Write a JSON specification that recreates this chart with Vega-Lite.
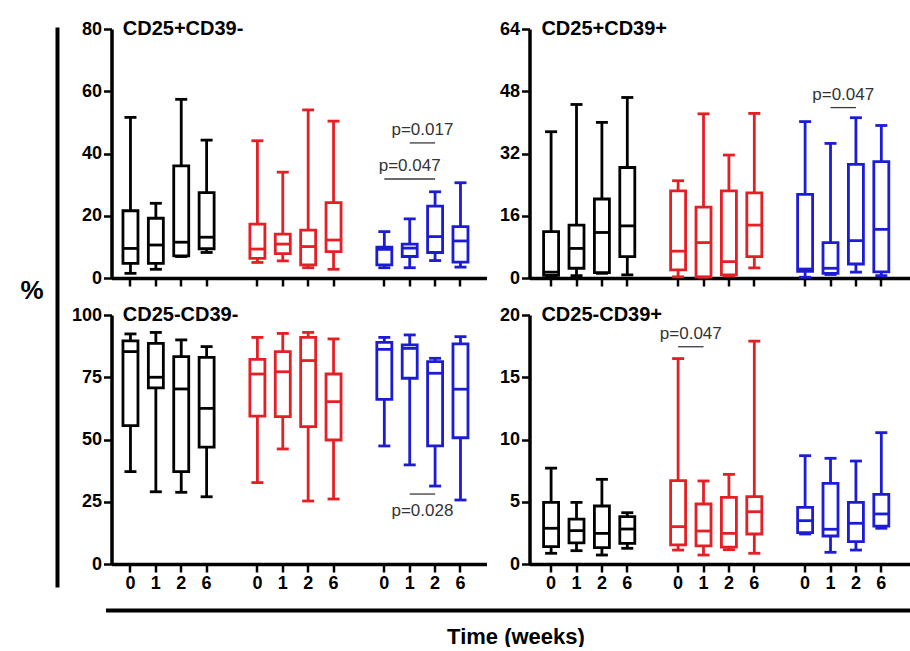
{
  "$schema": "https://vega.github.io/schema/vega-lite/v6.json",
  "background": "white",
  "padding": {"left": 19, "top": 19, "right": 0, "bottom": 0},
  "datasets": {
    "boxes": [
      {"panel": "CD25+CD39-", "box": "A0", "group": "A", "min": 1.5, "q1": 4.7, "median": 9.5, "q3": 21.6, "max": 51.6},
      {"panel": "CD25+CD39-", "box": "A1", "group": "A", "min": 2.8, "q1": 4.7, "median": 10.6, "q3": 19.2, "max": 24.0},
      {"panel": "CD25+CD39-", "box": "A2", "group": "A", "min": 6.9, "q1": 7.1, "median": 11.5, "q3": 36.0, "max": 57.4},
      {"panel": "CD25+CD39-", "box": "A6", "group": "A", "min": 8.2, "q1": 9.4, "median": 13.1, "q3": 27.4, "max": 44.3},
      {"panel": "CD25+CD39-", "box": "B0", "group": "B", "min": 5.0, "q1": 6.3, "median": 9.3, "q3": 17.3, "max": 44.1},
      {"panel": "CD25+CD39-", "box": "B1", "group": "B", "min": 5.5, "q1": 7.8, "median": 10.9, "q3": 14.1, "max": 34.0},
      {"panel": "CD25+CD39-", "box": "B2", "group": "B", "min": 3.3, "q1": 4.2, "median": 10.1, "q3": 15.4, "max": 54.0},
      {"panel": "CD25+CD39-", "box": "B6", "group": "B", "min": 2.8, "q1": 8.5, "median": 12.2, "q3": 24.2, "max": 50.4},
      {"panel": "CD25+CD39-", "box": "C0", "group": "C", "min": 3.3, "q1": 4.2, "median": 9.2, "q3": 9.9, "max": 14.9},
      {"panel": "CD25+CD39-", "box": "C1", "group": "C", "min": 3.3, "q1": 6.9, "median": 9.6, "q3": 10.9, "max": 19.0},
      {"panel": "CD25+CD39-", "box": "C2", "group": "C", "min": 5.6, "q1": 8.2, "median": 13.3, "q3": 23.1, "max": 27.7},
      {"panel": "CD25+CD39-", "box": "C6", "group": "C", "min": 3.5, "q1": 5.1, "median": 11.9, "q3": 16.5, "max": 30.6},

      {"panel": "CD25+CD39+", "box": "A0", "group": "A", "min": 0.5, "q1": 0.7, "median": 1.5, "q3": 11.9, "max": 37.6},
      {"panel": "CD25+CD39+", "box": "A1", "group": "A", "min": 0.6, "q1": 2.5, "median": 7.6, "q3": 13.6, "max": 44.6},
      {"panel": "CD25+CD39+", "box": "A2", "group": "A", "min": 1.2, "q1": 1.4, "median": 11.7, "q3": 20.3, "max": 40.0},
      {"panel": "CD25+CD39+", "box": "A6", "group": "A", "min": 0.8, "q1": 5.5, "median": 13.4, "q3": 28.4, "max": 46.4},
      {"panel": "CD25+CD39+", "box": "B0", "group": "B", "min": 0.3, "q1": 2.1, "median": 6.9, "q3": 22.4, "max": 25.0},
      {"panel": "CD25+CD39+", "box": "B1", "group": "B", "min": 0.2, "q1": 0.3, "median": 9.1, "q3": 18.2, "max": 42.2},
      {"panel": "CD25+CD39+", "box": "B2", "group": "B", "min": 0.5, "q1": 0.8, "median": 4.2, "q3": 22.4, "max": 31.6},
      {"panel": "CD25+CD39+", "box": "B6", "group": "B", "min": 2.6, "q1": 5.5, "median": 13.6, "q3": 21.9, "max": 42.3},
      {"panel": "CD25+CD39+", "box": "C0", "group": "C", "min": 0.2, "q1": 1.7, "median": 2.3, "q3": 21.5, "max": 40.2},
      {"panel": "CD25+CD39+", "box": "C1", "group": "C", "min": 0.9, "q1": 1.2, "median": 2.5, "q3": 9.1, "max": 34.6},
      {"panel": "CD25+CD39+", "box": "C2", "group": "C", "min": 1.5, "q1": 3.6, "median": 9.6, "q3": 29.2, "max": 41.2},
      {"panel": "CD25+CD39+", "box": "C6", "group": "C", "min": 0.6, "q1": 1.6, "median": 12.5, "q3": 29.9, "max": 39.2},

      {"panel": "CD25-CD39-", "box": "A0", "group": "A", "min": 37.1, "q1": 55.6, "median": 85.3, "q3": 89.6, "max": 92.4},
      {"panel": "CD25-CD39-", "box": "A1", "group": "A", "min": 29.0, "q1": 70.7, "median": 75.0, "q3": 88.6, "max": 93.0},
      {"panel": "CD25-CD39-", "box": "A2", "group": "A", "min": 28.8, "q1": 37.1, "median": 70.3, "q3": 83.3, "max": 90.0},
      {"panel": "CD25-CD39-", "box": "A6", "group": "A", "min": 27.0, "q1": 46.9, "median": 62.5, "q3": 83.0, "max": 87.3},
      {"panel": "CD25-CD39-", "box": "B0", "group": "B", "min": 32.7, "q1": 59.4, "median": 76.3, "q3": 82.2, "max": 91.0},
      {"panel": "CD25-CD39-", "box": "B1", "group": "B", "min": 46.2, "q1": 59.2, "median": 77.2, "q3": 85.3, "max": 92.6},
      {"panel": "CD25-CD39-", "box": "B2", "group": "B", "min": 25.3, "q1": 55.2, "median": 81.7, "q3": 91.0, "max": 93.0},
      {"panel": "CD25-CD39-", "box": "B6", "group": "B", "min": 26.1, "q1": 49.8, "median": 65.2, "q3": 76.3, "max": 90.4},
      {"panel": "CD25-CD39-", "box": "C0", "group": "C", "min": 47.4, "q1": 66.1, "median": 86.2, "q3": 89.0, "max": 91.0},
      {"panel": "CD25-CD39-", "box": "C1", "group": "C", "min": 39.8, "q1": 74.6, "median": 86.6, "q3": 88.0, "max": 92.0},
      {"panel": "CD25-CD39-", "box": "C2", "group": "C", "min": 31.3, "q1": 47.4, "median": 76.6, "q3": 81.3, "max": 82.6},
      {"panel": "CD25-CD39-", "box": "C6", "group": "C", "min": 25.7, "q1": 50.7, "median": 70.2, "q3": 88.4, "max": 91.3},

      {"panel": "CD25-CD39+", "box": "A0", "group": "A", "min": 0.86, "q1": 1.4, "median": 2.87, "q3": 4.95, "max": 7.7},
      {"panel": "CD25-CD39+", "box": "A1", "group": "A", "min": 1.07, "q1": 1.7, "median": 2.68, "q3": 3.6, "max": 4.95},
      {"panel": "CD25-CD39+", "box": "A2", "group": "A", "min": 0.72, "q1": 1.31, "median": 2.46, "q3": 4.66, "max": 6.8},
      {"panel": "CD25-CD39+", "box": "A6", "group": "A", "min": 1.26, "q1": 1.66, "median": 2.81, "q3": 3.8, "max": 4.12},
      {"panel": "CD25-CD39+", "box": "B0", "group": "B", "min": 1.12, "q1": 1.53, "median": 3.0, "q3": 6.69, "max": 16.5},
      {"panel": "CD25-CD39+", "box": "B1", "group": "B", "min": 0.72, "q1": 1.45, "median": 2.65, "q3": 4.82, "max": 6.67},
      {"panel": "CD25-CD39+", "box": "B2", "group": "B", "min": 1.15, "q1": 1.35, "median": 2.46, "q3": 5.35, "max": 7.2},
      {"panel": "CD25-CD39+", "box": "B6", "group": "B", "min": 0.86, "q1": 2.41, "median": 4.2, "q3": 5.41, "max": 17.9},
      {"panel": "CD25-CD39+", "box": "C0", "group": "C", "min": 2.41, "q1": 2.52, "median": 3.48, "q3": 4.55, "max": 8.7},
      {"panel": "CD25-CD39+", "box": "C1", "group": "C", "min": 0.94, "q1": 2.25, "median": 2.79, "q3": 6.48, "max": 8.49},
      {"panel": "CD25-CD39+", "box": "C2", "group": "C", "min": 1.12, "q1": 1.79, "median": 3.27, "q3": 4.95, "max": 8.27},
      {"panel": "CD25-CD39+", "box": "C6", "group": "C", "min": 2.87, "q1": 3.05, "median": 4.02, "q3": 5.6, "max": 10.55}
    ],
    "notes": [
      {"panel": "CD25+CD39-", "from": "C1", "to": "C2", "mid": "C1", "level": 43.4, "label": "p=0.017", "place": "above", "span": 1},
      {"panel": "CD25+CD39-", "from": "C0", "to": "C2", "mid": "C1", "level": 31.8, "label": "p=0.047", "place": "above", "span": 2},
      {"panel": "CD25+CD39+", "from": "C1", "to": "C2", "mid": "C1", "level": 43.8, "label": "p=0.047", "place": "above", "span": 1},
      {"panel": "CD25-CD39-", "from": "C1", "to": "C2", "mid": "C1", "level": 28.1, "label": "p=0.028", "place": "below", "span": 1},
      {"panel": "CD25-CD39+", "from": "B0", "to": "B1", "mid": "B0", "level": 17.45, "label": "p=0.047", "place": "above", "span": 1}
    ]
  },
  "spacing": 12.5,
  "hconcat": [
    {
      "width": 1,
      "height": 568,
      "data": {"values": [{}]},
      "mark": {"type": "rule", "opacity": 0},
      "encoding": {
        "y": {
          "datum": 0, "type": "quantitative",
          "scale": {"domain": [0, 1], "range": [558, -2]},
          "axis": {"domain": true, "domainWidth": 4, "ticks": false, "labels": false, "grid": false, "minExtent": 0,
                   "title": "%", "titleAngle": 0, "titleAlign": "right", "titleBaseline": "middle",
                   "titleFontSize": 26, "titleFontWeight": "bold", "titlePadding": 14, "titleY": 261}
        }
      }
    },
    {
      "spacing": 17,
      "vconcat": [
        {
          "columns": 2,
          "spacing": {"row": 17, "column": 12},
          "concat": [
            {
              "width": 375, "height": 249,
              "layer": [
                {
                  "data": {"name": "boxes"},
                  "transform": [{"filter": "datum.panel === 'CD25+CD39-'"}],
                  "encoding": {
                    "x": {"field": "box", "type": "nominal", "title": null,
                          "scale": {"domain": ["A0","A1","A2","A6","g1","B0","B1","B2","B6","g2","C0","C1","C2","C6"], "paddingInner": 0, "paddingOuter": 0.386, "align": 0.32},
                          "axis": {"values": ["A0","A1","A2","A6","B0","B1","B2","B6","C0","C1","C2","C6"], "labels": false, "title": null}},
                    "color": {"field": "group", "type": "nominal"}
                  },
                  "layer": [
                    {"mark": {"type": "rule", "strokeWidth": 2.8},
                     "encoding": {"y": {"field": "min", "type": "quantitative", "title": null, "scale": {"domain": [0, 80], "nice": false}, "axis": {"values": [0, 20, 40, 60, 80], "title": null}}, "y2": {"field": "max"}}},
                    {"mark": {"type": "bar", "size": 15, "strokeWidth": 2.8},
                     "encoding": {"y": {"field": "q3", "type": "quantitative", "title": null}, "y2": {"field": "q1"}, "color": {"value": "white"}, "stroke": {"field": "group", "type": "nominal"}}},
                    {"mark": {"type": "tick", "size": 15, "thickness": 2.8, "opacity": 1},
                     "encoding": {"y": {"field": "median", "type": "quantitative", "title": null}}},
                    {"mark": {"type": "tick", "size": 12, "thickness": 2.8, "opacity": 1},
                     "encoding": {"y": {"field": "min", "type": "quantitative", "title": null}}},
                    {"mark": {"type": "tick", "size": 12, "thickness": 2.8, "opacity": 1},
                     "encoding": {"y": {"field": "max", "type": "quantitative", "title": null}}}
                  ]
                },
                {
                  "data": {"values": [{"name": "CD25+CD39-"}]},
                  "mark": {"type": "text", "align": "left", "baseline": "middle", "dx": 5, "fontSize": 20, "fontWeight": "bold", "color": "#000000"},
                  "encoding": {"x": {"datum": "A0", "type": "nominal", "bandPosition": 0}, "y": {"datum": 80, "type": "quantitative"}, "text": {"field": "name"}}
                },
                {
                  "data": {"name": "notes"},
                  "transform": [{"filter": "datum.panel === 'CD25+CD39-'"}],
                  "mark": {"type": "rule", "strokeWidth": 1.3, "color": "#3a3a3a"},
                  "encoding": {"x": {"field": "from", "type": "nominal", "title": null}, "x2": {"field": "to"}, "y": {"field": "level", "type": "quantitative", "title": null}}
                },
                {
                  "data": {"name": "notes"},
                  "transform": [{"filter": "datum.panel === 'CD25+CD39-' && datum.span === 1"}],
                  "mark": {"type": "text", "baseline": "alphabetic", "dy": -8, "fontSize": 17, "color": "#333333"},
                  "encoding": {"x": {"field": "from", "type": "nominal", "bandPosition": 1, "title": null}, "y": {"field": "level", "type": "quantitative", "title": null}, "text": {"field": "label"}}
                },
                {
                  "data": {"name": "notes"},
                  "transform": [{"filter": "datum.panel === 'CD25+CD39-' && datum.span === 2"}],
                  "mark": {"type": "text", "baseline": "alphabetic", "dy": -8, "fontSize": 17, "color": "#333333"},
                  "encoding": {"x": {"field": "mid", "type": "nominal", "bandPosition": 0.5, "title": null}, "y": {"field": "level", "type": "quantitative", "title": null}, "text": {"field": "label"}}
                }
              ]
            },
            {
              "width": 380, "height": 249,
              "layer": [
                {
                  "data": {"name": "boxes"},
                  "transform": [{"filter": "datum.panel === 'CD25+CD39+'"}],
                  "encoding": {
                    "x": {"field": "box", "type": "nominal", "title": null,
                          "scale": {"domain": ["A0","A1","A2","A6","g1","B0","B1","B2","B6","g2","C0","C1","C2","C6"], "paddingInner": 0, "paddingOuter": 0.48, "align": 0.365},
                          "axis": {"values": ["A0","A1","A2","A6","B0","B1","B2","B6","C0","C1","C2","C6"], "labels": false, "title": null}},
                    "color": {"field": "group", "type": "nominal"}
                  },
                  "layer": [
                    {"mark": {"type": "rule", "strokeWidth": 2.8},
                     "encoding": {"y": {"field": "min", "type": "quantitative", "title": null, "scale": {"domain": [0, 64], "nice": false}, "axis": {"values": [0, 16, 32, 48, 64], "title": null}}, "y2": {"field": "max"}}},
                    {"mark": {"type": "bar", "size": 15, "strokeWidth": 2.8},
                     "encoding": {"y": {"field": "q3", "type": "quantitative", "title": null}, "y2": {"field": "q1"}, "color": {"value": "white"}, "stroke": {"field": "group", "type": "nominal"}}},
                    {"mark": {"type": "tick", "size": 15, "thickness": 2.8, "opacity": 1},
                     "encoding": {"y": {"field": "median", "type": "quantitative", "title": null}}},
                    {"mark": {"type": "tick", "size": 12, "thickness": 2.8, "opacity": 1},
                     "encoding": {"y": {"field": "min", "type": "quantitative", "title": null}}},
                    {"mark": {"type": "tick", "size": 12, "thickness": 2.8, "opacity": 1},
                     "encoding": {"y": {"field": "max", "type": "quantitative", "title": null}}}
                  ]
                },
                {
                  "data": {"values": [{"name": "CD25+CD39+"}]},
                  "mark": {"type": "text", "align": "left", "baseline": "middle", "dx": 3, "fontSize": 20, "fontWeight": "bold", "color": "#000000"},
                  "encoding": {"x": {"datum": "A0", "type": "nominal", "bandPosition": 0}, "y": {"datum": 64, "type": "quantitative"}, "text": {"field": "name"}}
                },
                {
                  "data": {"name": "notes"},
                  "transform": [{"filter": "datum.panel === 'CD25+CD39+'"}],
                  "mark": {"type": "rule", "strokeWidth": 1.3, "color": "#3a3a3a"},
                  "encoding": {"x": {"field": "from", "type": "nominal", "title": null}, "x2": {"field": "to"}, "y": {"field": "level", "type": "quantitative", "title": null}}
                },
                {
                  "data": {"name": "notes"},
                  "transform": [{"filter": "datum.panel === 'CD25+CD39+'"}],
                  "mark": {"type": "text", "baseline": "alphabetic", "dy": -8, "fontSize": 17, "color": "#333333"},
                  "encoding": {"x": {"field": "from", "type": "nominal", "bandPosition": 1, "title": null}, "y": {"field": "level", "type": "quantitative", "title": null}, "text": {"field": "label"}}
                }
              ]
            },
            {
              "width": 375, "height": 249,
              "layer": [
                {
                  "data": {"name": "boxes"},
                  "transform": [{"filter": "datum.panel === 'CD25-CD39-'"}],
                  "encoding": {
                    "x": {"field": "box", "type": "nominal", "title": null,
                          "scale": {"domain": ["A0","A1","A2","A6","g1","B0","B1","B2","B6","g2","C0","C1","C2","C6"], "paddingInner": 0, "paddingOuter": 0.386, "align": 0.32},
                          "axis": {"values": ["A0","A1","A2","A6","B0","B1","B2","B6","C0","C1","C2","C6"], "labelExpr": "substring(datum.value, 1)", "labelFontSize": 18, "labelAngle": 0, "title": null}},
                    "color": {"field": "group", "type": "nominal"}
                  },
                  "layer": [
                    {"mark": {"type": "rule", "strokeWidth": 2.8},
                     "encoding": {"y": {"field": "min", "type": "quantitative", "title": null, "scale": {"domain": [0, 100], "nice": false}, "axis": {"values": [0, 25, 50, 75, 100], "title": null}}, "y2": {"field": "max"}}},
                    {"mark": {"type": "bar", "size": 15, "strokeWidth": 2.8},
                     "encoding": {"y": {"field": "q3", "type": "quantitative", "title": null}, "y2": {"field": "q1"}, "color": {"value": "white"}, "stroke": {"field": "group", "type": "nominal"}}},
                    {"mark": {"type": "tick", "size": 15, "thickness": 2.8, "opacity": 1},
                     "encoding": {"y": {"field": "median", "type": "quantitative", "title": null}}},
                    {"mark": {"type": "tick", "size": 12, "thickness": 2.8, "opacity": 1},
                     "encoding": {"y": {"field": "min", "type": "quantitative", "title": null}}},
                    {"mark": {"type": "tick", "size": 12, "thickness": 2.8, "opacity": 1},
                     "encoding": {"y": {"field": "max", "type": "quantitative", "title": null}}}
                  ]
                },
                {
                  "data": {"values": [{"name": "CD25-CD39-"}]},
                  "mark": {"type": "text", "align": "left", "baseline": "middle", "dx": 5, "fontSize": 20, "fontWeight": "bold", "color": "#000000"},
                  "encoding": {"x": {"datum": "A0", "type": "nominal", "bandPosition": 0}, "y": {"datum": 100, "type": "quantitative"}, "text": {"field": "name"}}
                },
                {
                  "data": {"name": "notes"},
                  "transform": [{"filter": "datum.panel === 'CD25-CD39-'"}],
                  "mark": {"type": "rule", "strokeWidth": 1.3, "color": "#3a3a3a"},
                  "encoding": {"x": {"field": "from", "type": "nominal", "title": null}, "x2": {"field": "to"}, "y": {"field": "level", "type": "quantitative", "title": null}}
                },
                {
                  "data": {"name": "notes"},
                  "transform": [{"filter": "datum.panel === 'CD25-CD39-'"}],
                  "mark": {"type": "text", "baseline": "alphabetic", "dy": 22, "fontSize": 17, "color": "#333333"},
                  "encoding": {"x": {"field": "from", "type": "nominal", "bandPosition": 1, "title": null}, "y": {"field": "level", "type": "quantitative", "title": null}, "text": {"field": "label"}}
                }
              ]
            },
            {
              "width": 380, "height": 249,
              "layer": [
                {
                  "data": {"name": "boxes"},
                  "transform": [{"filter": "datum.panel === 'CD25-CD39+'"}],
                  "encoding": {
                    "x": {"field": "box", "type": "nominal", "title": null,
                          "scale": {"domain": ["A0","A1","A2","A6","g1","B0","B1","B2","B6","g2","C0","C1","C2","C6"], "paddingInner": 0, "paddingOuter": 0.48, "align": 0.365},
                          "axis": {"values": ["A0","A1","A2","A6","B0","B1","B2","B6","C0","C1","C2","C6"], "labelExpr": "substring(datum.value, 1)", "labelFontSize": 18, "labelAngle": 0, "title": null}},
                    "color": {"field": "group", "type": "nominal"}
                  },
                  "layer": [
                    {"mark": {"type": "rule", "strokeWidth": 2.8},
                     "encoding": {"y": {"field": "min", "type": "quantitative", "title": null, "scale": {"domain": [0, 20], "nice": false}, "axis": {"values": [0, 5, 10, 15, 20], "title": null}}, "y2": {"field": "max"}}},
                    {"mark": {"type": "bar", "size": 15, "strokeWidth": 2.8},
                     "encoding": {"y": {"field": "q3", "type": "quantitative", "title": null}, "y2": {"field": "q1"}, "color": {"value": "white"}, "stroke": {"field": "group", "type": "nominal"}}},
                    {"mark": {"type": "tick", "size": 15, "thickness": 2.8, "opacity": 1},
                     "encoding": {"y": {"field": "median", "type": "quantitative", "title": null}}},
                    {"mark": {"type": "tick", "size": 12, "thickness": 2.8, "opacity": 1},
                     "encoding": {"y": {"field": "min", "type": "quantitative", "title": null}}},
                    {"mark": {"type": "tick", "size": 12, "thickness": 2.8, "opacity": 1},
                     "encoding": {"y": {"field": "max", "type": "quantitative", "title": null}}}
                  ]
                },
                {
                  "data": {"values": [{"name": "CD25-CD39+"}]},
                  "mark": {"type": "text", "align": "left", "baseline": "middle", "dx": 3, "fontSize": 20, "fontWeight": "bold", "color": "#000000"},
                  "encoding": {"x": {"datum": "A0", "type": "nominal", "bandPosition": 0}, "y": {"datum": 20, "type": "quantitative"}, "text": {"field": "name"}}
                },
                {
                  "data": {"name": "notes"},
                  "transform": [{"filter": "datum.panel === 'CD25-CD39+'"}],
                  "mark": {"type": "rule", "strokeWidth": 1.3, "color": "#3a3a3a"},
                  "encoding": {"x": {"field": "from", "type": "nominal", "title": null}, "x2": {"field": "to"}, "y": {"field": "level", "type": "quantitative", "title": null}}
                },
                {
                  "data": {"name": "notes"},
                  "transform": [{"filter": "datum.panel === 'CD25-CD39+'"}],
                  "mark": {"type": "text", "baseline": "alphabetic", "dy": -8, "fontSize": 17, "color": "#333333"},
                  "encoding": {"x": {"field": "from", "type": "nominal", "bandPosition": 1, "title": null}, "y": {"field": "level", "type": "quantitative", "title": null}, "text": {"field": "label"}}
                }
              ]
            }
          ]
        },
        {
          "width": 799,
          "height": 1,
          "data": {"values": [{}]},
          "mark": {"type": "rule", "opacity": 0},
          "encoding": {
            "x": {
              "datum": 0, "type": "quantitative",
              "scale": {"domain": [0, 1], "range": [-6, 805]},
              "axis": {"domain": true, "domainWidth": 4, "ticks": false, "labels": false, "grid": false, "minExtent": 0,
                       "title": "Time (weeks)", "titleFontSize": 22, "titleFontWeight": "bold", "titleBaseline": "middle",
                       "titlePadding": 26, "titleX": 404}
            }
          }
        }
      ]
    }
  ],
  "config": {
    "view": {"stroke": null},
    "font": "Liberation Sans",
    "range": {"category": ["#000000", "#e41f26", "#1c1cd4"]},
    "legend": {"disable": true},
    "axis": {
      "domainColor": "#000000", "domainWidth": 3.5,
      "tickColor": "#000000", "tickWidth": 2.5, "tickSize": 8,
      "labelColor": "#000000", "labelFont": "Liberation Sans", "labelFontWeight": "bold", "labelFontSize": 18, "labelPadding": 2,
      "grid": false,
      "titleColor": "#000000", "titleFont": "Liberation Sans", "titleFontWeight": "bold"
    }
  }
}
